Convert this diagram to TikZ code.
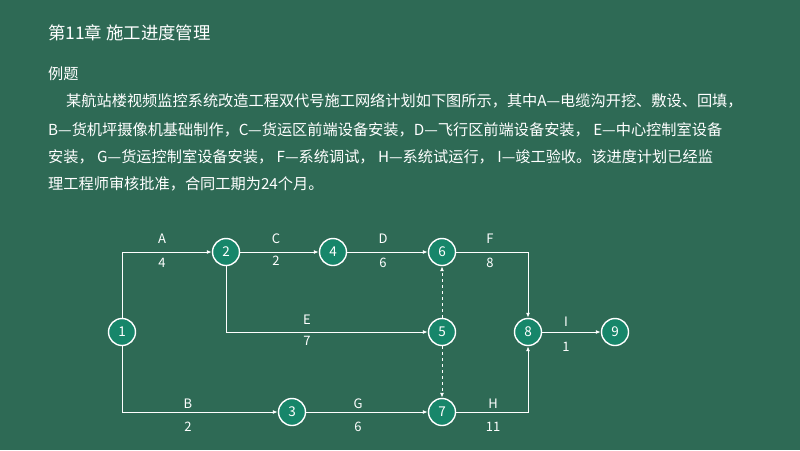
\documentclass[tikz,border=0pt]{standalone}
\usepackage{fontspec}
\setmainfont{Noto Sans CJK SC}
\usetikzlibrary{arrows.meta}
\definecolor{bg}{HTML}{2E6A55}
\definecolor{nd}{HTML}{17866A}
\begin{document}
\begin{tikzpicture}[x=1pt,y=-1pt,
  ev/.style={circle,draw=white,line width=1.4pt,fill=nd,minimum size=27pt,inner sep=0pt,text=white,font=\fontsize{13.5}{13}\selectfont},
  arr/.style={draw=white,line width=1pt,-{Latex[length=5pt,width=4pt]}},
  dsh/.style={arr,dashed},
  lb/.style={text=white,font=\fontsize{13}{13}\selectfont},
  tx/.style={text=white,anchor=west,font=\fontsize{15.2}{16}\selectfont,inner sep=0pt}]
\fill[bg] (0,0) rectangle (800,450);
\useasboundingbox (0,0) rectangle (800,450);
\node[tx,font=\fontsize{17.4}{19}\selectfont] (title) at (48,33) {第11章 施工进度管理};
\node[tx] (t0) at (48,74) {例题};
\node[tx] (t1) at (66,101) {某航站楼视频监控系统改造工程双代号施工网络计划如下图所示，其中A—电缆沟开挖、敷设、回填，};
\node[tx] (t2) at (48,130) {B—货机坪摄像机基础制作，C—货运区前端设备安装，D—飞行区前端设备安装， E—中心控制室设备};
\node[tx] (t3) at (48,157) {安装， G—货运控制室设备安装， F—系统调试， H—系统试运行， I—竣工验收。该进度计划已经监};
\node[tx] (t4) at (48,184) {理工程师审核批准，合同工期为24个月。};
\node[ev] (n1) at (122,332) {1};
\node[ev] (n2) at (226,252) {2};
\node[ev] (n4) at (333,252) {4};
\node[ev] (n6) at (442,252) {6};
\node[ev] (n5) at (442,332) {5};
\node[ev] (n8) at (528,332) {8};
\node[ev] (n9) at (615,332) {9};
\node[ev] (n3) at (292,412) {3};
\node[ev] (n7) at (442,412) {7};
\draw[arr] (n1.north) |- (n2);
\draw[arr] (n2) -- (n4);
\draw[arr] (n4) -- (n6);
\draw[arr] (n2.south) |- (n5);
\draw[arr] (n1.south) |- (n3);
\draw[arr] (n3) -- (n7);
\draw[arr] (n6) -| (n8);
\draw[arr] (n7) -| (n8);
\draw[arr] (n8) -- (n9);
\draw[dsh] (n5) -- (n6);
\draw[dsh] (n5) -- (n7);
\node[lb] (la) at (162,239) {A}; \node[lb] (va) at (162,263) {4};
\node[lb] (lc) at (276,239) {C}; \node[lb] (vc) at (276,261) {2};
\node[lb] (ld) at (383,239) {D}; \node[lb] (vd) at (383,263) {6};
\node[lb] (lf) at (490,239) {F}; \node[lb] (vf) at (490,263) {8};
\node[lb] (le) at (307,320) {E}; \node[lb] (ve) at (307,341) {7};
\node[lb] (li) at (566,322) {I}; \node[lb] (vi) at (566,347) {1};
\node[lb] (lbb) at (188,404) {B}; \node[lb] (vb) at (188,427) {2};
\node[lb] (lg) at (358,404) {G}; \node[lb] (vg) at (358,427) {6};
\node[lb] (lh) at (493,404) {H}; \node[lb] (vh) at (493,427) {11};
\end{tikzpicture}
\end{document}
